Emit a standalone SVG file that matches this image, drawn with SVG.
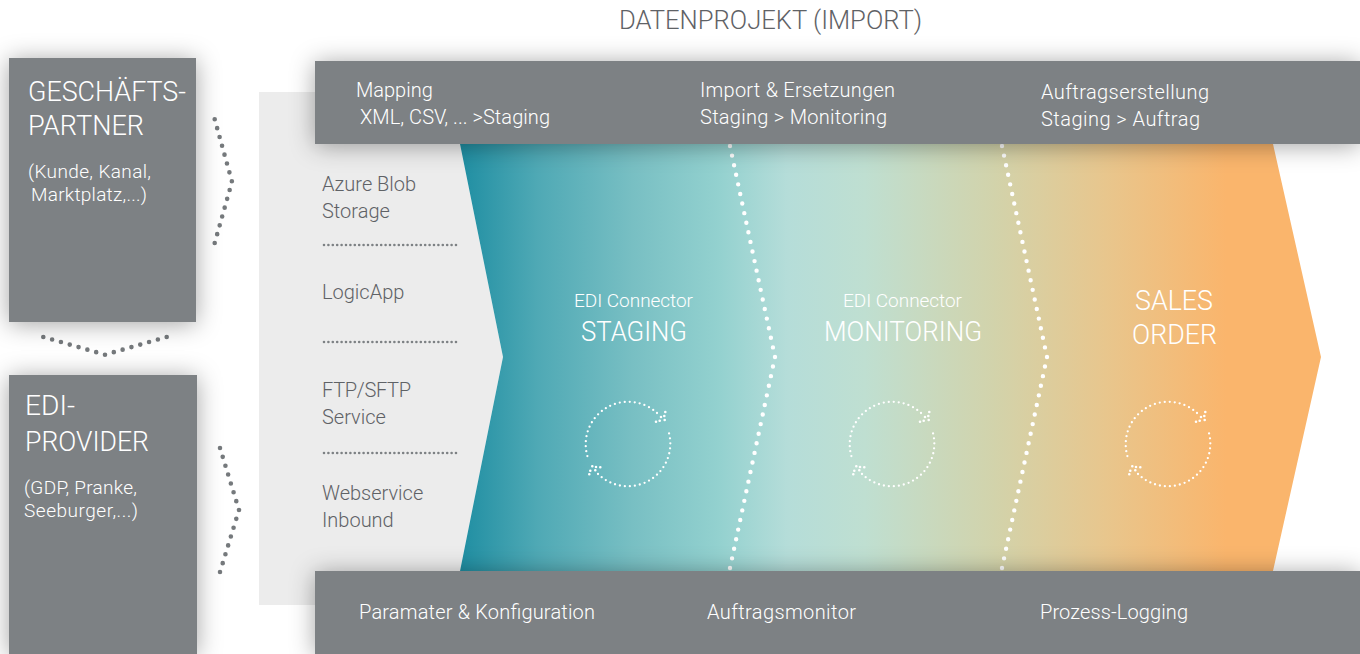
<svg xmlns="http://www.w3.org/2000/svg" width="1360" height="654" viewBox="0 0 1360 654">
<style>
text{font-family:"Roboto","Liberation Sans",sans-serif;font-weight:300}
.w{fill:#fff}
.g{fill:#5f6266}
.b{fill:#7d8184}
.dg{fill:none;stroke:#75797c;stroke-width:4.6;stroke-linecap:round;stroke-dasharray:0 .9999}
.ds{fill:none;stroke:#7d8184;stroke-width:2.6;stroke-linecap:round;stroke-dasharray:0 .9999}
.dw{fill:none;stroke:#fff;stroke-width:4.4;stroke-linecap:round;stroke-dasharray:0 .9999}
.dc{fill:none;stroke:#fff;stroke-width:2.3;stroke-linecap:round;stroke-dasharray:0 5}
.dp{fill:none;stroke:#fff;stroke-width:2.6;stroke-linecap:round}
</style>
<defs>
<linearGradient id="flow" gradientUnits="userSpaceOnUse" x1="460" y1="0" x2="1321" y2="0">
<stop offset="0" stop-color="#1f8ea2"/>
<stop offset="0.09" stop-color="#4fa9b5"/>
<stop offset="0.2" stop-color="#78bfc3"/>
<stop offset="0.3" stop-color="#93d1cf"/>
<stop offset="0.38" stop-color="#b5ddd9"/>
<stop offset="0.47" stop-color="#bfdfd1"/>
<stop offset="0.62" stop-color="#d2d3ab"/>
<stop offset="0.75" stop-color="#e8c68d"/>
<stop offset="0.89" stop-color="#fab56c"/>
<stop offset="1" stop-color="#fab56c"/>
</linearGradient>
<filter id="sh" x="-30%" y="-50%" width="160%" height="200%"><feDropShadow dx="0" dy="2" stdDeviation="12" flood-color="#000" flood-opacity="0.36"/></filter>
<g id="cyc">
<path class="dc" d="M29.5 -30.5A42.5 42.5 0 0 0 -39.5 14.5"/>
<path class="dc" d="M-29.5 30.5A42.5 42.5 0 0 0 40.2 -14.5"/>
<path class="dp" d="M37.8 -31.5h0M36.8 -27.5h0M33.5 -26.5h0M37.2 -23.5h0M32.2 -22.8h0M28.5 -21.8h0"/>
<path class="dp" d="M-35.2 22.8h0M-31.5 23.5h0M-27.2 23.8h0M-32.2 26.8h0M-37.2 27.2h0M-38.2 30.8h0"/>
</g>
</defs>
<text x="770.5" y="29" text-anchor="middle" font-size="25.6" class="g" id="title">DATENPROJEKT (IMPORT)</text>
<g id="sources">
<path fill="#ececec" d="M259 92H470V144H460L503 357L460 571V605H259Z"/>
<text class="g" font-size="20"><tspan x="322" y="191">Azure Blob</tspan><tspan x="322" y="218">Storage</tspan></text>
<text class="g" font-size="20" x="322" y="299">LogicApp</text>
<text class="g" font-size="20" x="322" y="397" textLength="89">FTP/SFTP</text>
<text class="g" font-size="20" x="322" y="424">Service</text>
<text class="g" font-size="20"><tspan x="322" y="500">Webservice</tspan><tspan x="322" y="527">Inbound</tspan></text>
</g>
<g id="flow-band">
<path fill="url(#flow)" d="M460 144H1273L1321 357L1273 571H460L503 357Z"/>
<text class="w" font-size="19" x="574" y="307" textLength="119">EDI Connector</text>
<text class="w" font-size="28" x="581" y="341" textLength="106" lengthAdjust="spacingAndGlyphs">STAGING</text>
<text class="w" font-size="19" x="843" y="307" textLength="119">EDI Connector</text>
<text class="w" font-size="28" x="824" y="341" textLength="158" lengthAdjust="spacingAndGlyphs">MONITORING</text>
<text class="w" font-size="28" x="1135" y="310" textLength="78" lengthAdjust="spacingAndGlyphs">SALES</text>
<text class="w" font-size="28" x="1132" y="344" textLength="85" lengthAdjust="spacingAndGlyphs">ORDER</text>
<use href="#cyc" x="627.5" y="443.5"/>
<use href="#cyc" x="891.5" y="443.5"/>
<use href="#cyc" x="1167.5" y="443.5"/>
</g>
<g id="connectors">
<path class="dg" pathLength="14" d="M214.7 119.3L232 181.7L214.7 243"/>
<path class="dg" pathLength="14" d="M43.3 337L105 354.7L166.7 337"/>
<path class="dg" pathLength="14" d="M220 448L239 510L220 572"/>
<path class="ds" pathLength="30" d="M324 245H456"/>
<path class="ds" pathLength="30" d="M324 342H456"/>
<path class="ds" pathLength="30" d="M324 453H456"/>
<path class="dw" pathLength="44" d="M730 146L775 357L730 568"/>
<path class="dw" pathLength="44" d="M1002 146L1047 357L1002 568"/>
</g>
<g id="top-bar">
<rect class="b" x="315" y="61" width="1045" height="83" filter="url(#sh)"/>
<text class="w" font-size="20" x="356" y="97">Mapping</text>
<text class="w" font-size="20" x="360" y="124" textLength="190">XML, CSV, ... &gt;Staging</text>
<text class="w" font-size="20" x="700" y="97" textLength="195">Import &amp; Ersetzungen</text>
<text class="w" font-size="20" x="700" y="124" textLength="187">Staging &gt; Monitoring</text>
<text class="w" font-size="20" x="1041" y="99" textLength="168">Auftragserstellung</text>
<text class="w" font-size="20" x="1041" y="126" textLength="159">Staging &gt; Auftrag</text>
</g>
<g id="bottom-bar">
<rect class="b" x="315" y="571" width="1045" height="83" filter="url(#sh)"/>
<text class="w" font-size="20" x="359" y="619" textLength="236">Paramater &amp; Konfiguration</text>
<text class="w" font-size="20" x="707" y="619" textLength="149">Auftragsmonitor</text>
<text class="w" font-size="20" x="1040" y="619" textLength="148">Prozess-Logging</text>
</g>
<g id="partner">
<rect class="b" x="9" y="58" width="187" height="264" filter="url(#sh)"/>
<text class="w" font-size="28" x="28" y="101" textLength="158" lengthAdjust="spacingAndGlyphs">GESCHÄFTS-</text>
<text class="w" font-size="28" x="28" y="135" textLength="116" lengthAdjust="spacingAndGlyphs">PARTNER</text>
<text class="w" font-size="19" x="28" y="178" textLength="123">(Kunde, Kanal,</text>
<text class="w" font-size="19" x="31" y="201" textLength="116">Marktplatz,...)</text>
</g>
<g id="provider">
<rect class="b" x="9" y="375" width="188" height="279" filter="url(#sh)"/>
<text class="w" font-size="28" x="25" y="415" textLength="50" lengthAdjust="spacingAndGlyphs">EDI-</text>
<text class="w" font-size="28" x="25" y="451" textLength="124" lengthAdjust="spacingAndGlyphs">PROVIDER</text>
<text class="w" font-size="19" x="24" y="494" textLength="113">(GDP, Pranke,</text>
<text class="w" font-size="19" x="24" y="517" textLength="114">Seeburger,...)</text>
</g>
</svg>
